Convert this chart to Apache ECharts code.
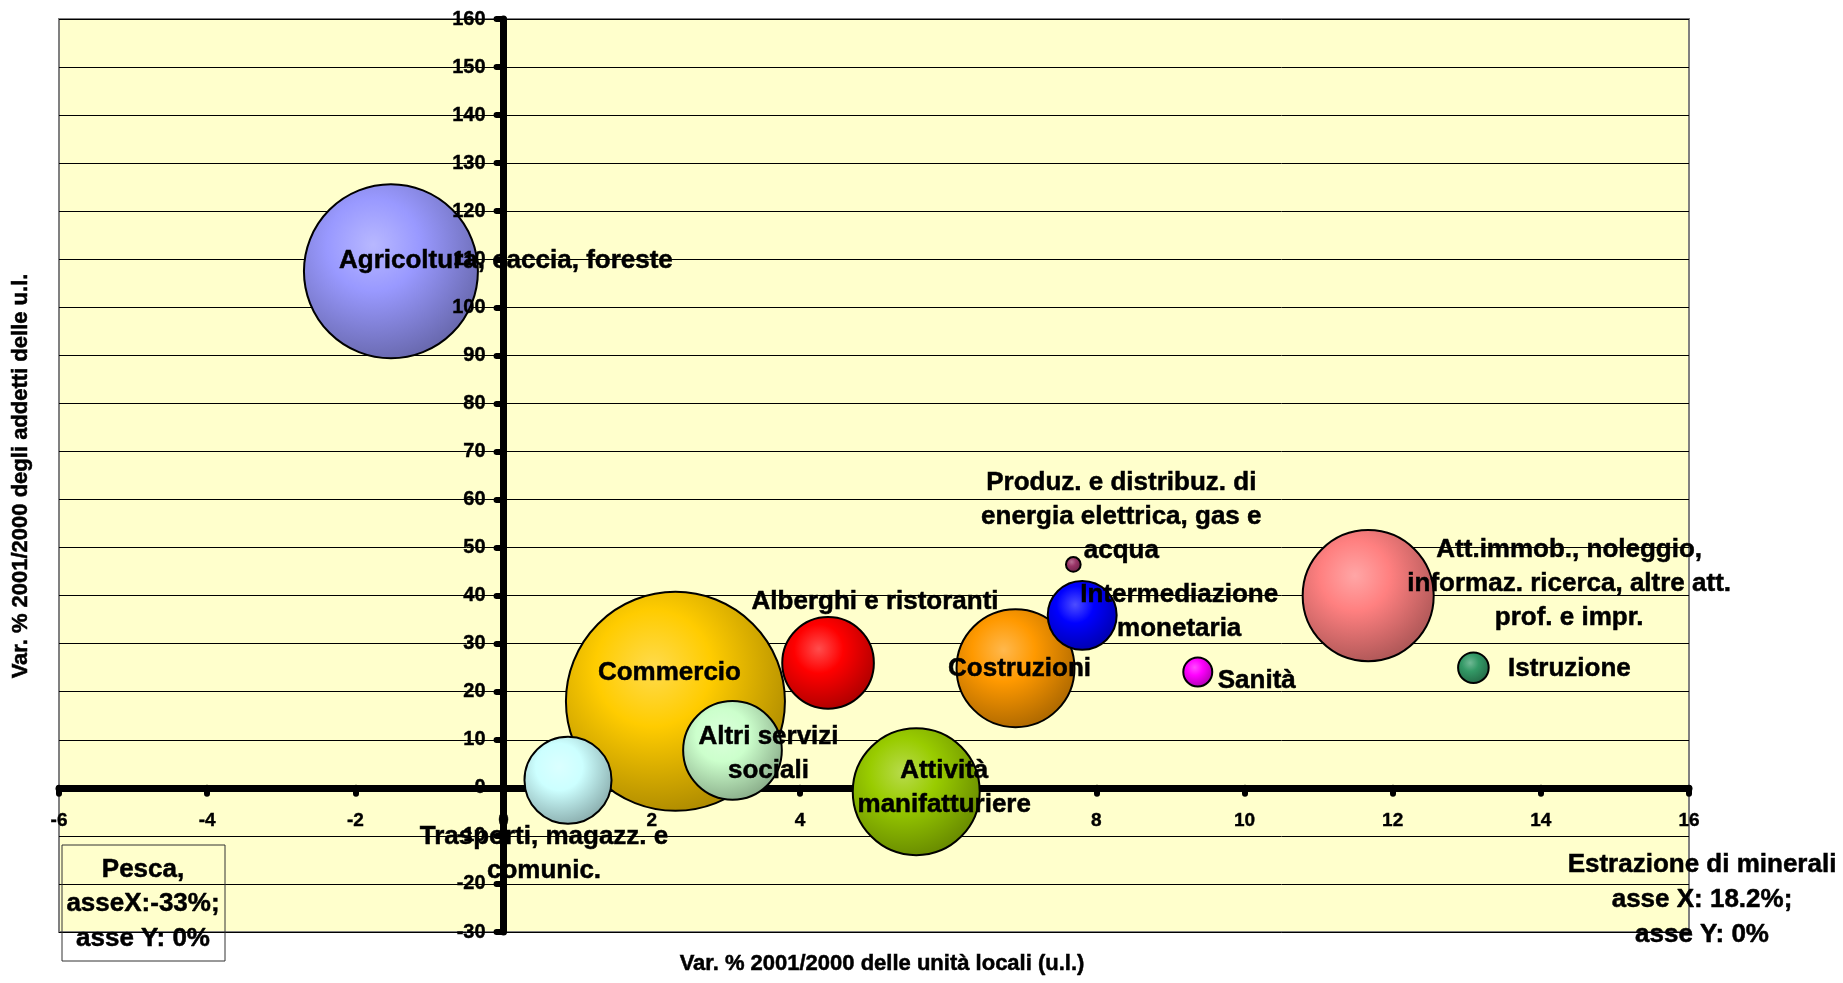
<!DOCTYPE html>
<html>
<head>
<meta charset="utf-8">
<title>Var. % 2001/2000 unità locali e addetti</title>
<script src="https://cdn.jsdelivr.net/npm/echarts@6/dist/echarts.min.js"></script>
<style>
html, body { margin: 0; padding: 0; background: #fff; }
#chart { width: 1843px; height: 983px; }
</style>
</head>
<body>
<div id="chart"></div>
<script>
// settori (testo come nel grafico)
var sectors = [
  'Agricoltura, caccia, foreste',
  'Commercio',
  'Trasporti, magazz. e\ncomunic.',
  'Altri servizi\nsociali',
  'Alberghi e ristoranti',
  'Attività\nmanifatturiere',
  'Costruzioni',
  'Intermediazione\nmonetaria',
  'Produz. e distribuz. di\nenergia elettrica, gas e\nacqua',
  'Sanità',
  'Att.immob., noleggio,\ninformaz. ricerca, altre att.\nprof. e impr.',
  'Istruzione'
]
// var. % 2001/2000 unità locali (asse X)
var varUL = [-1.52, 2.32, 0.87, 3.09, 4.38, 5.57, 6.91, 7.81, 7.69, 9.37, 11.67, 13.09]
// var. % 2001/2000 addetti (asse Y)
var varAddetti = [107.5, 18.0, 1.6, 7.8, 26.0, -0.8, 24.9, 35.9, 46.5, 24.1, 40.0, 25.0]
// dimensione delle bolle
var bubbleSize = [63.1, 100, 15.8, 20.3, 17.5, 33.6, 29.0, 9.9, 0.45, 1.75, 35.8, 1.95]
// assi: min, max, passo
var xRange = [-6, 16, 2]
var yRange = [-30, 160, 10]

var colors = ['#9999FF', '#FFCC00', '#CCFFFF', '#CCFFCC', '#FF0000', '#99CC00',
  '#FF9900', '#0000FF', '#993366', '#FF00FF', '#FF8080', '#339966']
// spostamento delle etichette rispetto al centro della bolla
var labelOffsets = [[115, -10], [-6, -29], [-24, 74], [36, 3], [47, -61], [28, -4],
  [4, 1], [97, -4], [48, -48], [59, 9], [201, -12], [96, 1]]

var FONT = '"Liberation Sans", Arial, sans-serif'
var GRID = { left: 59, right: 154, top: 19, bottom: 51 }
var W = 1843
var H = 983
var gridW = W - GRID.left - GRID.right
var gridH = H - GRID.top - GRID.bottom
// gli assi si incrociano nello zero
var yAxisShift = -gridW * (0 - xRange[0]) / (xRange[1] - xRange[0])
var xAxisShift = -gridH * (0 - yRange[0]) / (yRange[1] - yRange[0])

function shade (hex, amt) {
  var n = parseInt(hex.slice(1), 16)
  var c = [(n >> 16) & 255, (n >> 8) & 255, n & 255]
  c = c.map(function (v) {
    return Math.round(amt > 0 ? v + (255 - v) * amt : v * (1 + amt))
  })
  return 'rgb(' + c.join(',') + ')'
}

var chart = echarts.init(document.getElementById('chart'))

var data = sectors.map(function (name, i) {
  return {
    name: name,
    value: [varUL[i], varAddetti[i], bubbleSize[i]],
    itemStyle: {
      color: new echarts.graphic.RadialGradient(0.4, 0.35, 0.75, [
        { offset: 0, color: shade(colors[i], 0.3) },
        { offset: 0.35, color: colors[i] },
        { offset: 1, color: shade(colors[i], -0.38) }
      ])
    },
    label: { offset: labelOffsets[i] }
  }
})

var boldText = {
  fill: '#000',
  stroke: '#000',
  lineWidth: 0.5,
  textAlign: 'center',
  textVerticalAlign: 'middle'
}

var option = {
  animation: false,
  backgroundColor: '#fff',
  grid: {
    left: GRID.left,
    right: GRID.right,
    top: GRID.top,
    bottom: GRID.bottom,
    show: true,
    backgroundColor: '#FFFFCC',
    borderColor: '#808080',
    borderWidth: 2,
    outerBoundsMode: 'none'
  },
  xAxis: {
    type: 'value',
    position: 'bottom',
    offset: xAxisShift,
    min: xRange[0],
    max: xRange[1],
    interval: xRange[2],
    axisLine: { onZero: false, lineStyle: { color: '#000', width: 7 } },
    axisTick: { show: true, length: 6, lineStyle: { color: '#000', width: 6, cap: 'round' } },
    axisLabel: {
      margin: 23, color: '#000', fontSize: 19, fontWeight: 'bold', fontFamily: FONT,
      textBorderColor: '#000', textBorderWidth: 0.4
    },
    splitLine: { show: false }
  },
  yAxis: [
    {
      // solo griglia orizzontale, sotto le bolle
      type: 'value',
      min: yRange[0],
      max: yRange[1],
      interval: yRange[2],
      axisLine: { show: false, onZero: false },
      axisTick: { show: false },
      axisLabel: { show: false },
      splitLine: { show: true, lineStyle: { color: '#000', width: 1 } }
    },
    {
      // asse verticale sopra le bolle
      type: 'value',
      position: 'left',
      offset: yAxisShift,
      z: 10,
      min: yRange[0],
      max: yRange[1],
      interval: yRange[2],
      axisLine: { onZero: false, lineStyle: { color: '#000', width: 7 } },
      axisTick: { show: true, length: 7, lineStyle: { color: '#000', width: 6, cap: 'round' } },
      axisLabel: {
        margin: 18, color: '#000', fontSize: 20, fontWeight: 'bold', fontFamily: FONT,
        textBorderColor: '#000', textBorderWidth: 0.4
      },
      splitLine: { show: false }
    }
  ],
  series: [
    {
      type: 'scatter',
      yAxisIndex: 0,
      symbol: 'circle',
      symbolSize: function (val) {
        return 219 * Math.sqrt(val[2] / 100)
      },
      itemStyle: { borderColor: '#000', borderWidth: 2, opacity: 1 },
      label: {
        show: true,
        position: 'inside',
        formatter: '{b}',
        color: '#000',
        opacity: 1,
        textBorderColor: '#000',
        textBorderWidth: 0.5,
        fontSize: 26,
        fontWeight: 'bold',
        fontFamily: FONT,
        lineHeight: 34,
        align: 'center'
      },
      emphasis: { disabled: true },
      data: data
    }
  ],
  graphic: [
    {
      type: 'text',
      x: 882,
      y: 964,
      style: Object.assign({
        text: 'Var. % 2001/2000 delle unità locali (u.l.)',
        font: 'bold 22px ' + FONT
      }, boldText)
    },
    {
      type: 'text',
      x: 21,
      y: 476,
      rotation: Math.PI / 2,
      style: Object.assign({
        text: 'Var. % 2001/2000 degli addetti delle u.l.',
        font: 'bold 22px ' + FONT
      }, boldText)
    },
    {
      type: 'rect',
      shape: { x: 62, y: 845, width: 163, height: 116 },
      style: { fill: 'transparent', stroke: '#333', lineWidth: 1 },
      z: 20
    },
    {
      type: 'text',
      x: 143,
      y: 904,
      z: 20,
      style: Object.assign({
        text: 'Pesca,\nasseX:-33%;\nasse Y: 0%',
        font: 'bold 26px ' + FONT,
        lineHeight: 34.5
      }, boldText)
    },
    {
      type: 'text',
      x: 1702,
      y: 900,
      z: 20,
      style: Object.assign({
        text: 'Estrazione di minerali\nasse X: 18.2%;\nasse Y: 0%',
        font: 'bold 26px ' + FONT,
        lineHeight: 35
      }, boldText)
    }
  ]
}

chart.setOption(option)
window.addEventListener('resize', function () {
  chart.resize()
})
</script>
</body>
</html>
